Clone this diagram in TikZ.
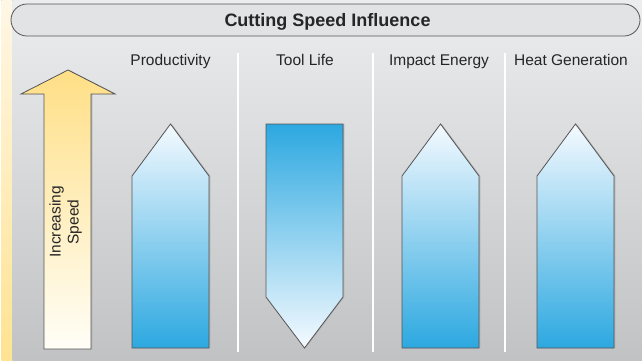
\documentclass[tikz,border=0pt]{standalone}
\usepackage{fontspec}
\setmainfont{Liberation Sans}
\usepackage{tikz}
\usetikzlibrary{positioning}
\definecolor{PanelTop}{HTML}{ECEDEF}
\definecolor{PanelBottom}{HTML}{C1C2C4}
\definecolor{StripTop}{HTML}{FFF7E6}
\definecolor{StripBottom}{HTML}{FFE391}
\definecolor{PillFill}{HTML}{E2E3E5}
\definecolor{EdgeGray}{HTML}{555555}
\definecolor{ArrowBlue}{HTML}{2CA8E0}
\definecolor{ArrowPale}{HTML}{F5FAFF}
\definecolor{ArrowYellow}{HTML}{FFDF86}
\definecolor{ArrowCream}{HTML}{FFFEF7}

\begin{document}
\begin{tikzpicture}[
  x=1pt, y=-1pt,
  heading/.style={
    font=\fontsize{18}{21}\selectfont\bfseries,
    text=black!85,
    inner sep=0pt
  },
  colname/.style={
    font=\fontsize{15.5}{18}\selectfont,
    text=black!85,
    inner sep=0pt
  },
  divider/.style={white, line width=2pt},
  outline/.style={draw=EdgeGray, line width=0.8pt},
  shade/.style={fill=black!30, xshift=1.3pt},
  riseup/.style={outline, top color=ArrowPale, bottom color=ArrowBlue},
  falldown/.style={outline, top color=ArrowBlue, bottom color=ArrowPale},
  speedup/.style={outline, top color=ArrowYellow, bottom color=ArrowCream}
]

\useasboundingbox (0,0) rectangle (642,360);

% =========================================================
% BACKGROUND
% =========================================================

\shade[top color=StripTop, bottom color=StripBottom] (0,0) rectangle (11,360);
\shade[top color=PanelTop, bottom color=PanelBottom] (11,0) rectangle (642,360);

\draw[PillFill, fill=PillFill, outline, rounded corners=16pt]
  (11,4) rectangle (640,36);
\node[heading, anchor=base] (title) at (327.5,26.5) {Cutting Speed Influence};

% column dividers
\draw[divider] (238,53) -- (238,352);
\draw[divider] (372.5,53) -- (372.5,352);
\draw[divider] (505,53) -- (505,352);

% =========================================================
% COLUMN HEADINGS
% =========================================================

\node[colname, anchor=base] (prod) at (170.5,65) {Productivity};
\node[colname, anchor=base] (life) at (305,65) {Tool Life};
\node[colname, anchor=base] (impact) at (439,65) {Impact Energy};
\node[colname, anchor=base] (heat) at (571,65) {Heat Generation};

% =========================================================
% SPEED ARROW
% =========================================================

\fill[shade] (44,349) -- (44,94) -- (21,94) -- (68,70) -- (115,94)
  -- (91,94) -- (91,349) -- cycle;
\path[speedup] (44,349) -- (44,94) -- (21,94) -- (68,70) -- (115,94)
  -- (91,94) -- (91,349) -- cycle;
\node[colname, rotate=90, align=center] (speed) at (65.5,222)
  {Increasing\\Speed};

% =========================================================
% EFFECT ARROWS
% =========================================================

\fill[shade] (132,348) -- (132,176) -- (170.5,124) -- (209,176) -- (209,348) -- cycle;
\path[riseup] (132,348) -- (132,176) -- (170.5,124) -- (209,176) -- (209,348) -- cycle;

\fill[shade] (266,124) -- (343,124) -- (343,297) -- (304.5,348) -- (266,297) -- cycle;
\path[falldown] (266,124) -- (343,124) -- (343,297) -- (304.5,348) -- (266,297) -- cycle;

\fill[shade] (402,348) -- (402,176) -- (440.5,124) -- (479,176) -- (479,348) -- cycle;
\path[riseup] (402,348) -- (402,176) -- (440.5,124) -- (479,176) -- (479,348) -- cycle;

\fill[shade] (537,348) -- (537,176) -- (575.5,124) -- (614,176) -- (614,348) -- cycle;
\path[riseup] (537,348) -- (537,176) -- (575.5,124) -- (614,176) -- (614,348) -- cycle;

\end{tikzpicture}
\end{document}
